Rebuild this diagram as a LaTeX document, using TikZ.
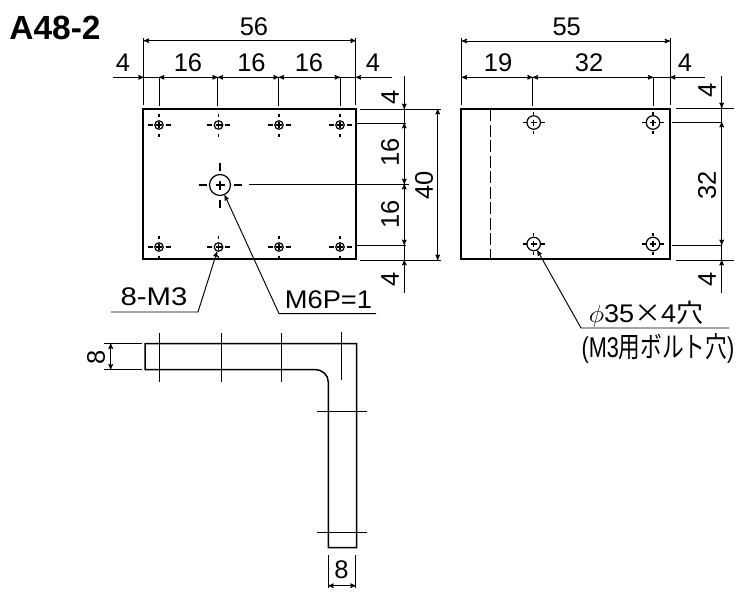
\documentclass[tikz,border=0pt]{standalone}
\usepackage{fontspec}
\setmainfont{Liberation Sans}
\newfontfamily\cjk{Noto Sans CJK JP}
\usetikzlibrary{arrows,positioning,calc}
\tikzset{
  outline/.style={draw=black, line width=1.9pt},
  dimline/.style={draw=black, line width=0.95pt},
  dimarrow/.style={dimline, >=stealth', arrows=#1},
  dimtext/.style={inner sep=0pt, font=\fontsize{25.5}{25.5}\selectfont},
  smallhole/.style={circle, draw=black, line width=1.2pt, inner sep=0pt, minimum size=#1},
  crossh/.style={draw=black, line width=1.1pt, dash pattern=on 5pt off 3.5pt on 6pt off 3.5pt on 5pt},
  crossv/.style={draw=black, line width=1.1pt, dash pattern=on 3pt off 5.5pt on 6pt off 5.5pt on 3pt},
}
\begin{document}
\begin{tikzpicture}[x=1pt, y=-1pt]
  \useasboundingbox (0,0) rectangle (747,600);
  \node (title) [inner sep=0pt, font=\fontsize{33.5}{33.5}\selectfont\bfseries] at (55,28) {A48-2};

  % left plate
  \node (plateA) [outline, inner sep=0pt, minimum width=212.5pt, minimum height=150pt] at (249.5,184) {};
  \foreach \n/\x in {a/159,b/218.5,c/279,d/340} {
    \foreach \m/\y in {t/125,u/247} {
      \node (h\n\m) [smallhole=8.5pt] at (\x,\y) {};
      \draw [crossh] ($(h\n\m)+(-11.5,0)$) -- ($(h\n\m)+(11.5,0)$);
      \draw [crossv] ($(h\n\m)+(0,-11.5)$) -- ($(h\n\m)+(0,11.5)$);
    }
  }
  \node (bigA) [smallhole=21pt] at (220,185) {};
  \draw [crossh, dash pattern=on 8pt off 9pt on 9pt off 9pt on 8pt] ($(bigA)+(-21.5,0)$) -- ($(bigA)+(21.5,0)$);
  \draw [crossv, dash pattern=on 8pt off 10pt on 9pt off 10pt on 8pt] ($(bigA)+(0,-22.5)$) -- ($(bigA)+(0,22.5)$);

  % dimensions above left plate
  \coordinate (a56l) at (143.7,38);  \coordinate (a56lb) at (143.7,105);
  \coordinate (a56r) at (355.7,38);  \coordinate (a56rb) at (355.7,105);
  \draw [dimline] (a56l) -- (a56lb);
  \draw [dimline] (a56r) -- (a56rb);
  \draw [dimarrow=<->] (143.7,40.7) -- (355.7,40.7);
  \coordinate (rowA) at (113,77.3);
  \coordinate (rowAe) at (392,77.3);
  \draw [dimline] (rowA) -- (rowAe);
  \foreach \n/\x in {a/159,b/217.7,c/278.7,d/340} {
    \coordinate (e\n) at (\x,77.3);
    \coordinate (f\n) at (\x,106);
    \draw [dimline] (e\n) -- (f\n);
  }
  \draw [dimarrow=->] (rowA) -- (143.7,77.3);
  \draw [dimarrow=->] (rowAe) -- (355.7,77.3);
  \draw [dimarrow=<->] (ea) -- (eb);
  \draw [dimarrow=<->] (eb) -- (ec);
  \draw [dimarrow=<->] (ec) -- (ed);
  \node (t56) [dimtext] at (254,27) {56};
  \node (t4a) [dimtext] at (123,63) {4};
  \node (t16a) [dimtext] at (188,63) {16};
  \node (t16b) [dimtext] at (251.5,63) {16};
  \node (t16c) [dimtext] at (309,63) {16};
  \node (t4b) [dimtext] at (373,63) {4};

  % dimensions right of left plate
  \coordinate (va) at (404.3,76);
  \coordinate (vb) at (404.3,293);
  \draw [dimline] (va) -- (vb);
  \foreach \n/\xa/\xb/\y in {g/360/441/109,h/356/406/123,i/249/409/184,j/356/406/245,k/360/441/260} {
    \coordinate (\n1) at (\xa,\y);
    \coordinate (\n2) at (\xb,\y);
    \draw [dimline] (\n1) -- (\n2);
  }
  \draw [dimarrow=->] (va) -- (404.3,109);
  \draw [dimarrow=<->] (404.3,123) -- (404.3,184);
  \draw [dimarrow=<->] (404.3,184) -- (404.3,245);
  \draw [dimarrow=->] (vb) -- (404.3,260);
  \draw [dimarrow=<->] (437.7,109) -- (437.7,260);
  \node (t4c) [dimtext, rotate=90] at (390,97) {4};
  \node (t16d) [dimtext, rotate=90] at (390,152) {16};
  \node (t40) [dimtext, rotate=90] at (424,185) {40};
  \node (t16e) [dimtext, rotate=90] at (390,214) {16};
  \node (t4d) [dimtext, rotate=90] at (390,279) {4};

  % leaders
  \coordinate (m3a) at (111,312);
  \coordinate (m3b) at (198,312);
  \draw [dimarrow=->] (m3a) -- (m3b) -- (hbu);
  \node (tm3) [dimtext] at (154,297) {\scalebox{1.15}[1]{8-M3}};
  \coordinate (m6a) at (376,313.6);
  \coordinate (m6b) at (279,313.6);
  \draw [dimarrow=->] (m6a) -- (m6b) -- (bigA);
  \node (tm6) [dimtext] at (328.5,300) {\scalebox{1.07}[1]{M6P=1}};

  % right plate
  \node (plateB) [outline, inner sep=0pt, minimum width=209pt, minimum height=150pt] at (565.5,184) {};
  \coordinate (fold1) at (490.7,109);
  \coordinate (fold2) at (490.7,259);
  \draw [dimline, dash pattern=on 12pt off 3.5pt] (fold1) -- (fold2);
  \foreach \n/\x in {a/533.7,b/653} {
    \foreach \m/\y in {t/122.5,u/244} {
      \node (k\n\m) [smallhole=13.5pt] at (\x,\y) {};
      \draw [crossh, dash pattern=on 4pt off 4pt on 6pt off 4pt on 4pt] ($(k\n\m)+(-11,0)$) -- ($(k\n\m)+(11,0)$);
      \draw [crossh, dash pattern=on 3pt off 5pt on 6pt off 5pt on 3pt] ($(k\n\m)+(0,-11)$) -- ($(k\n\m)+(0,11)$);
    }
  }

  % dimensions above right plate
  \coordinate (b55l) at (461.7,38);  \coordinate (b55lb) at (461.7,105);
  \coordinate (b55r) at (670,38);    \coordinate (b55rb) at (670,105);
  \draw [dimline] (b55l) -- (b55lb);
  \draw [dimline] (b55r) -- (b55rb);
  \draw [dimarrow=<->] (461.7,41) -- (670,41);
  \coordinate (rowB) at (461.7,77.3);
  \coordinate (rowBe) at (705,77.3);
  \draw [dimline] (rowB) -- (rowBe);
  \foreach \n/\x in {m/532.7,n/653.3} {
    \coordinate (e\n) at (\x,77.3);
    \coordinate (f\n) at (\x,106);
    \draw [dimline] (e\n) -- (f\n);
  }
  \draw [dimarrow=<->] (rowB) -- (em);
  \draw [dimarrow=<->] (em) -- (en);
  \draw [dimarrow=->] (rowBe) -- (670,77.3);
  \node (t55) [dimtext] at (566.7,27) {55};
  \node (t19) [dimtext] at (498,63) {19};
  \node (t32a) [dimtext] at (589,63) {32};
  \node (t4e) [dimtext] at (685,63) {4};

  % dimensions right of right plate
  \coordinate (wa) at (721.7,76);
  \coordinate (wb) at (721.7,293);
  \draw [dimline] (wa) -- (wb);
  \foreach \n/\xa/\xb/\y in {p/676/734/108,q/672/722/122,r/672/722/245,s/676/734/260} {
    \coordinate (\n1) at (\xa,\y);
    \coordinate (\n2) at (\xb,\y);
    \draw [dimline] (\n1) -- (\n2);
  }
  \draw [dimarrow=->] (wa) -- (721.7,108);
  \draw [dimarrow=<->] (721.7,122) -- (721.7,245);
  \draw [dimarrow=->] (wb) -- (721.7,260);
  \node (t4f) [dimtext, rotate=90] at (707,90) {4};
  \node (t32b) [dimtext, rotate=90] at (707,185) {32};
  \node (t4g) [dimtext, rotate=90] at (707,279) {4};

  % leader of the right plate
  \coordinate (boa) at (729,328);
  \coordinate (bob) at (581,328);
  \draw [dimarrow=->] (boa) -- (bob) -- (kau);
  \node (tbo) [dimtext] at (646,314.5) {\scalebox{1.06}[1]{$\phi$35{\cjk ×}4{\cjk 穴}}};
  \node (tbp) [dimtext] at (658,348.5) {\scalebox{0.85}[1.12]{(M3{\cjk 用ボルト穴})}};

  % bent profile
  \coordinate (c1) at (145,343.5);
  \coordinate (c2) at (356.7,343.5);
  \coordinate (c3) at (356.7,547.7);
  \coordinate (c4) at (328.3,547.7);
  \coordinate (c5) at (328.3,382);
  \coordinate (c6) at (315,369.5);
  \coordinate (c7) at (145,369.5);
  \draw [outline, line width=1.5pt] (c1) -- (c2) -- (c3) -- (c4) -- (c5)
    .. controls (328.3,374.8) and (322.2,369.5) .. (c6) -- (c7) -- cycle;
  \foreach \n/\x/\ya/\yb in {a/159.3/333/381.7,b/221.3/333/381.7,c/281.3/333/381.7,d/341.5/331.5/380} {
    \coordinate (u\n) at (\x,\ya);
    \coordinate (w\n) at (\x,\yb);
    \draw [dimline] (u\n) -- (w\n);
  }
  \foreach \n/\y in {a/411.7,b/532.7} {
    \coordinate (x\n) at (317,\y);
    \coordinate (z\n) at (367,\y);
    \draw [dimline] (x\n) -- (z\n);
  }

  % dimensions of the profile
  \coordinate (d1) at (104,343.5);  \coordinate (d2) at (142,343.5);
  \coordinate (d3) at (104,369.5);  \coordinate (d4) at (142,369.5);
  \draw [dimline] (d1) -- (d2);
  \draw [dimline] (d3) -- (d4);
  \draw [dimarrow=<->] (110.7,343.5) -- (110.7,369.5);
  \node (t8a) [dimtext, rotate=90] at (96,357) {8};
  \coordinate (d5) at (328.3,555);  \coordinate (d6) at (328.3,588);
  \coordinate (d7) at (355.7,555);  \coordinate (d8) at (355.7,588);
  \draw [dimline] (d5) -- (d6);
  \draw [dimline] (d7) -- (d8);
  \draw [dimarrow=<->] (328.3,585.7) -- (355.7,585.7);
  \node (t8b) [dimtext] at (341.5,570) {8};
\end{tikzpicture}
\end{document}
